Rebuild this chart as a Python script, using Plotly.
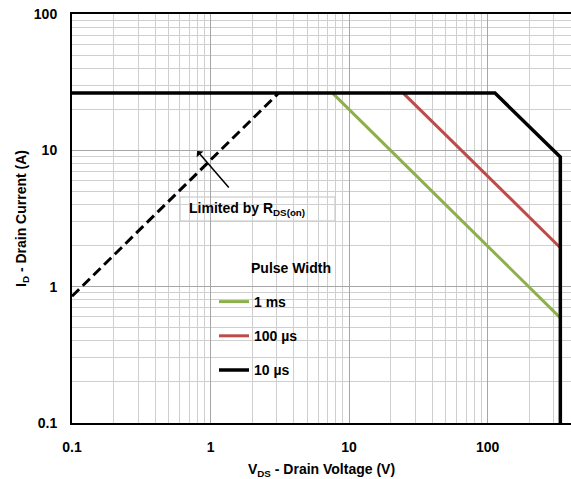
import plotly.graph_objects as go
import numpy as np

# ---- data ----
rds_v = [0.1, 3.1]
rds_i = [0.85, 26.3]

ms1_v = [7.6, 335]
ms1_i = [26.3, 0.59]

us100_v = [24.6, 335]
us100_i = [26.3, 1.93]

us10_v = [0.1, 113, 335, 335]
us10_i = [26.3, 26.3, 8.93, 0.1]

series_names = ["1 ms", "100 µs", "10 µs"]
series_colors = ["#8DB04C", "#BE4B48", "#000000"]

x_ticks = [0.1, 1, 10, 100]
x_ticktext = ["0.1", "1", "10", "100"]
y_ticks = [0.1, 1, 10, 100]
y_ticktext = ["0.1", "1", "10", "100"]

FONT = "Liberation Sans, Arial, sans-serif"

fig = go.Figure()

fig.add_trace(go.Scatter(x=rds_v, y=rds_i, mode="lines", showlegend=False,
                         line=dict(color="black", width=3, dash="10px,5px")))

for name, vx, iy, col in zip(series_names, [ms1_v, us100_v, us10_v], [ms1_i, us100_i, us10_i], series_colors):
    fig.add_trace(go.Scatter(x=vx, y=iy, mode="lines", name=name, legendgroup=name,
                             line=dict(color=col, width=3.5 if col == "#000000" else 3)))

L, R, T, B = 72, 0, 14, 56
W, H = 571, 479
pw, ph = W - L - R, H - T - B

def px(xp):
    return (xp - L) / pw

def py(yp):
    return (H - B - yp) / ph

# white boxes (legend area and annotation box) covering the grid
fig.add_shape(type="rect", xref="paper", yref="paper", x0=px(200), x1=px(355), y0=py(383), y1=py(250),
              fillcolor="white", line=dict(width=0), layer="between")
fig.add_shape(type="rect", xref="paper", yref="paper", x0=px(180), x1=px(335), y0=py(221), y1=py(197),
              fillcolor="white", line=dict(width=1, color="#c0c0c0"), layer="between")

fig.add_annotation(xref="paper", yref="paper", x=px(187), y=py(209), xanchor="left", yanchor="middle",
                   text="Limited by R<sub>DS(on)</sub>", showarrow=False,
                   font=dict(family=FONT, size=14, color="black", weight="bold"))

fig.add_annotation(xref="paper", yref="paper", x=px(249), y=py(268), xanchor="left", yanchor="middle",
                   text="Pulse Width", showarrow=False,
                   font=dict(family=FONT, size=14, color="black", weight="bold"))

fig.add_annotation(x=np.log10(0.80), y=np.log10(9.9), xref="x", yref="y", text="",
                   showarrow=True, ax=33, ay=38, arrowhead=1, arrowsize=1, arrowwidth=1.5,
                   arrowcolor="black")

fig.update_layout(
    width=W, height=H,
    margin=dict(l=L, r=R, t=T, b=B),
    paper_bgcolor="white", plot_bgcolor="white",
    font=dict(family=FONT, size=14, color="black"),
    legend=dict(x=px(214), y=py(286), xanchor="left", yanchor="top",
                bgcolor="rgba(0,0,0,0)", tracegroupgap=13, itemwidth=30,
                font=dict(family=FONT, size=14, color="black", weight="bold")),
)

grid_major = "#a6a6a6"
grid_minor = "#cfcfcf"

fig.update_xaxes(type="log", range=[-1, np.log10(400)], automargin=False,
                 tickmode="array", tickvals=x_ticks, ticktext=x_ticktext,
                 tickfont=dict(family=FONT, size=14, color="black", weight="bold"),
                 ticklabelstandoff=10,
                 showgrid=True, gridcolor=grid_major, gridwidth=1,
                 minor=dict(dtick="D1", showgrid=True, gridcolor=grid_minor, gridwidth=1),
                 showline=True, linecolor="black", linewidth=2, mirror=True,
                 ticks="", zeroline=False,
                 title=dict(text="V<sub>DS</sub> - Drain Voltage (V)", standoff=16,
                            font=dict(family=FONT, size=14, color="black", weight="bold")))
fig.update_yaxes(type="log", range=[-1, 2], automargin=False,
                 tickmode="array", tickvals=y_ticks, ticktext=y_ticktext,
                 tickfont=dict(family=FONT, size=14, color="black", weight="bold"),
                 ticklabelstandoff=10,
                 showgrid=True, gridcolor=grid_major, gridwidth=1,
                 minor=dict(dtick="D1", showgrid=True, gridcolor=grid_minor, gridwidth=1),
                 showline=True, linecolor="black", linewidth=2, mirror=False,
                 ticks="", zeroline=False,
                 title=dict(text="I<sub>D</sub> - Drain Current (A)", standoff=4,
                            font=dict(family=FONT, size=14, color="black", weight="bold")))

fig.write_html("out.html", config={"displayModeBar": False},
               post_script="document.body.style.margin='0';document.body.style.padding='0';")
